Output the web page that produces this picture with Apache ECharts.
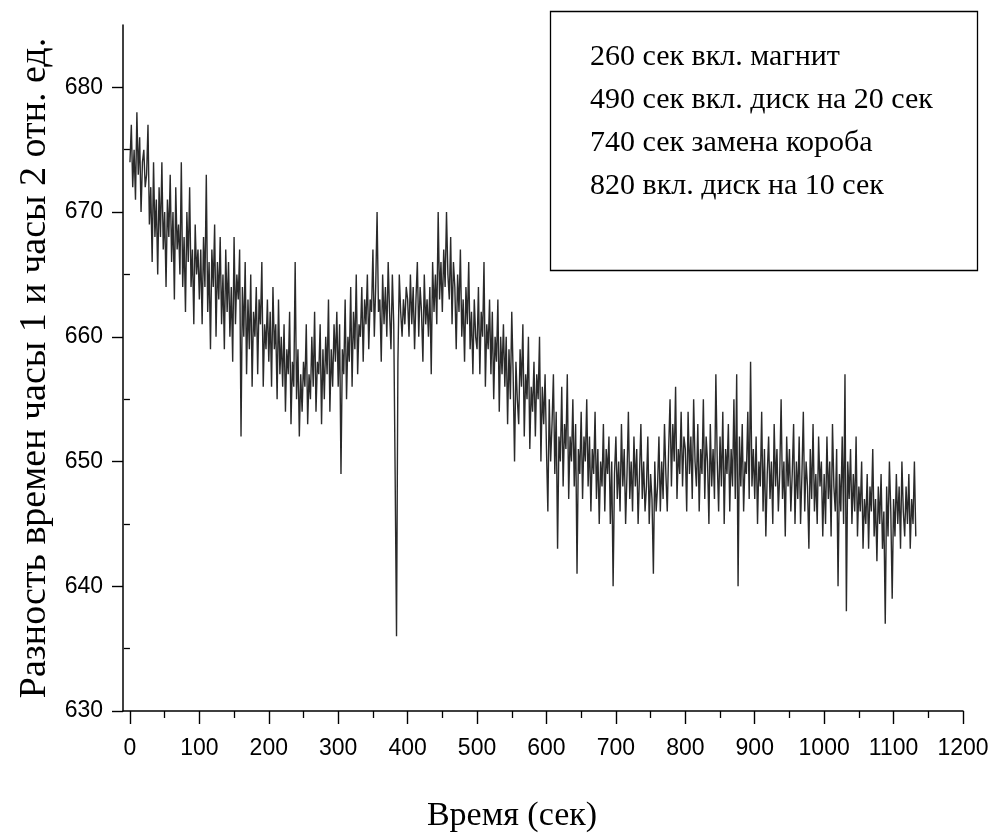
<!DOCTYPE html>
<html>
<head>
<meta charset="utf-8">
<script src="https://cdn.jsdelivr.net/npm/echarts@6/dist/echarts.min.js"></script>
<style>html,body{margin:0;padding:0;background:#fff}#chart{width:994px;height:835px}</style>
</head>
<body>
<div id="chart"></div>
<script>
// Sampling step (seconds) of the transcribed series
const stepSec = 2;
// Values per 100-second segment
const seg0 = [674,677,672,675,671,678,673,676,670,674,675,672,673,677,669,672,666,674,668,671,665,672,668,674,667,670,664,671,668,673,666,670,663,672,667,669,665,674,664,668,662,670,666,672,664,667,661,669,665,667];
const seg1 = [663,667,661,668,664,673,662,666,659,667,664,669,660,666,663,668,661,665,659,667,662,666,660,664,658,668,661,665,663,667,652,664,660,666,657,663,659,665,656,662,660,664,657,663,661,666,656,661,659,663];
const seg2 = [658,662,656,664,659,661,655,663,657,660,656,661,654,659,657,662,653,658,656,666,655,659,652,657,654,658,656,661,653,657,655,660,656,662,654,658,657,661,653,659,655,660,657,663,654,659,656,661,658,662];
const seg3 = [656,661,649,659,657,663,655,660,658,664,656,662,659,665,657,661,660,664,658,663,661,665,659,663,662,667,660,664,670,662,663,658,665,661,664,660,666,662,659,665,661,649,636,658,665,662,660,663,661,664];
const seg4 = [663,660,665,661,664,659,663,666,660,664,662,658,665,661,663,660,664,657,666,662,665,661,670,663,666,662,667,664,670,665,663,668,661,666,664,659,665,662,667,660,663,658,664,661,666,659,662,657,663,660];
const seg5 = [659,664,657,662,660,666,656,661,659,663,657,662,655,660,658,663,654,660,657,661,656,660,653,659,655,662,657,650,658,655,653,659,656,661,652,657,655,660,651,656,654,658,652,657,655,660,650,656,653,657];
const seg6 = [651,646,655,650,653,657,649,654,643,652,650,656,648,653,651,657,647,652,650,655,648,653,641,651,649,654,647,652,650,655,648,652,646,651,649,654,647,651,645,650,648,653,646,651,649,652,645,650,640,649];
const seg7 = [652,647,650,646,653,648,651,645,649,654,647,650,646,652,648,651,645,649,653,647,650,646,648,652,645,649,647,641,650,646,648,652,646,650,647,653,649,646,651,655,648,653,650,656,647,651,649,654,648,652];
const seg8 = [651,646,654,649,652,647,655,650,648,653,646,651,649,655,647,652,650,645,653,648,651,647,657,650,646,652,648,654,645,651,649,653,646,651,648,655,647,657,640,652,648,653,646,650,649,654,647,658,648,651];
const seg9 = [647,652,645,650,648,654,646,651,644,649,652,647,650,645,653,648,651,646,649,655,647,650,644,652,648,651,646,649,653,645,650,647,652,645,649,654,646,650,648,643,651,647,653,646,649,645,652,648,650,644];
const seg10 = [649,645,652,647,650,644,653,648,646,651,640,649,646,652,645,657,638,650,647,651,645,649,646,652,644,648,646,650,643,647,645,649,643,648,646,651,644,647,642,648,645,649,643,646,637,648,644,650,646,639];
const seg11 = [647,644,649,645,648,643,650,646,644,648,645,649,643,647,645,650,644];
const segments = [seg0,seg1,seg2,seg3,seg4,seg5,seg6,seg7,seg8,seg9,seg10,seg11];
const segStarts = [0,100,200,300,400,500,600,700,800,900,1000,1100];

// Axis ticks
const xMajorTicks = [0,100,200,300,400,500,600,700,800,900,1000,1100,1200];
const xMinorTicks = [50,150,250,350,450,550,650,750,850,950,1050,1150];
const yMajorTicks = [630,640,650,660,670,680];
const yMinorTicks = [635,645,655,665,675];

const legendLines = ['260 сек вкл. магнит','490 сек вкл. диск на 20 сек','740 сек замена короба','820 вкл. диск на 10 сек'];
const xTitle = 'Время (сек)';
const yTitle = 'Разность времен часы 1 и часы 2 отн. ед.';

const seriesData = [];
segments.forEach((seg, k) => seg.forEach((v, i) => seriesData.push([segStarts[k] + i * stepSec, v])));

const chart = echarts.init(document.getElementById('chart'));
const serif = '"Liberation Serif", "Times New Roman", serif';
const sans = '"Liberation Sans", Arial, sans-serif';
const xRange = {min: -10, max: 1200};
const yRange = {min: 630, max: 685};
const plain = v => String(v);

const graphic = [{
  type: 'rect', left: 548, top: 9,
  shape: {width: 427, height: 259},
  style: {fill: 'none', stroke: '#000', lineWidth: 1.3}
}];
legendLines.forEach((t, i) => graphic.push({
  type: 'text', left: 590, top: 42 + i * 43,
  style: {text: t, font: '30px ' + serif, fill: '#000'}
}));

chart.setOption({
  animation: false,
  backgroundColor: '#fff',
  grid: {left: 123, right: 31, top: 25, bottom: 124, containLabel: false, outerBoundsMode: 'none'},
  xAxis: [{
    type: 'value', ...xRange, position: 'bottom',
    name: xTitle, nameLocation: 'middle', nameGap: 88,
    nameTextStyle: {fontFamily: serif, fontSize: 34, color: '#000', padding: [0, 62, 0, 0]},
    axisLine: {show: true, onZero: false, lineStyle: {color: '#000', width: 1.5}},
    axisTick: {show: true, customValues: xMajorTicks, length: 13, lineStyle: {color: '#000', width: 1.4}},
    axisLabel: {customValues: xMajorTicks, formatter: plain, margin: 26, fontFamily: sans, fontSize: 23, color: '#000'},
    splitLine: {show: false}
  }, {
    type: 'value', ...xRange, position: 'bottom',
    axisLine: {show: false},
    axisTick: {show: true, customValues: xMinorTicks, length: 7, lineStyle: {color: '#000', width: 1.3}},
    axisLabel: {show: false},
    splitLine: {show: false}
  }],
  yAxis: [{
    type: 'value', ...yRange, position: 'left',
    name: yTitle, nameLocation: 'middle', nameGap: 66, nameRotate: 90,
    nameTextStyle: {fontFamily: serif, fontSize: 38, color: '#000'},
    axisLine: {show: true, onZero: false, lineStyle: {color: '#000', width: 1.5}},
    axisTick: {show: true, customValues: yMajorTicks, length: 11, lineStyle: {color: '#000', width: 1.4}},
    axisLabel: {customValues: yMajorTicks, formatter: plain, margin: 20, fontFamily: sans, fontSize: 23, color: '#000'},
    splitLine: {show: false}
  }, {
    type: 'value', ...yRange, position: 'left',
    axisLine: {show: false},
    axisTick: {show: true, customValues: yMinorTicks, length: 6, lineStyle: {color: '#000', width: 1.3}},
    axisLabel: {show: false},
    splitLine: {show: false}
  }],
  series: [{
    type: 'line', xAxisIndex: 0, yAxisIndex: 0,
    data: seriesData, showSymbol: false, symbol: 'none',
    lineStyle: {color: '#2a2a2a', width: 1.4}
  }],
  graphic: graphic
});
</script>
</body>
</html>
